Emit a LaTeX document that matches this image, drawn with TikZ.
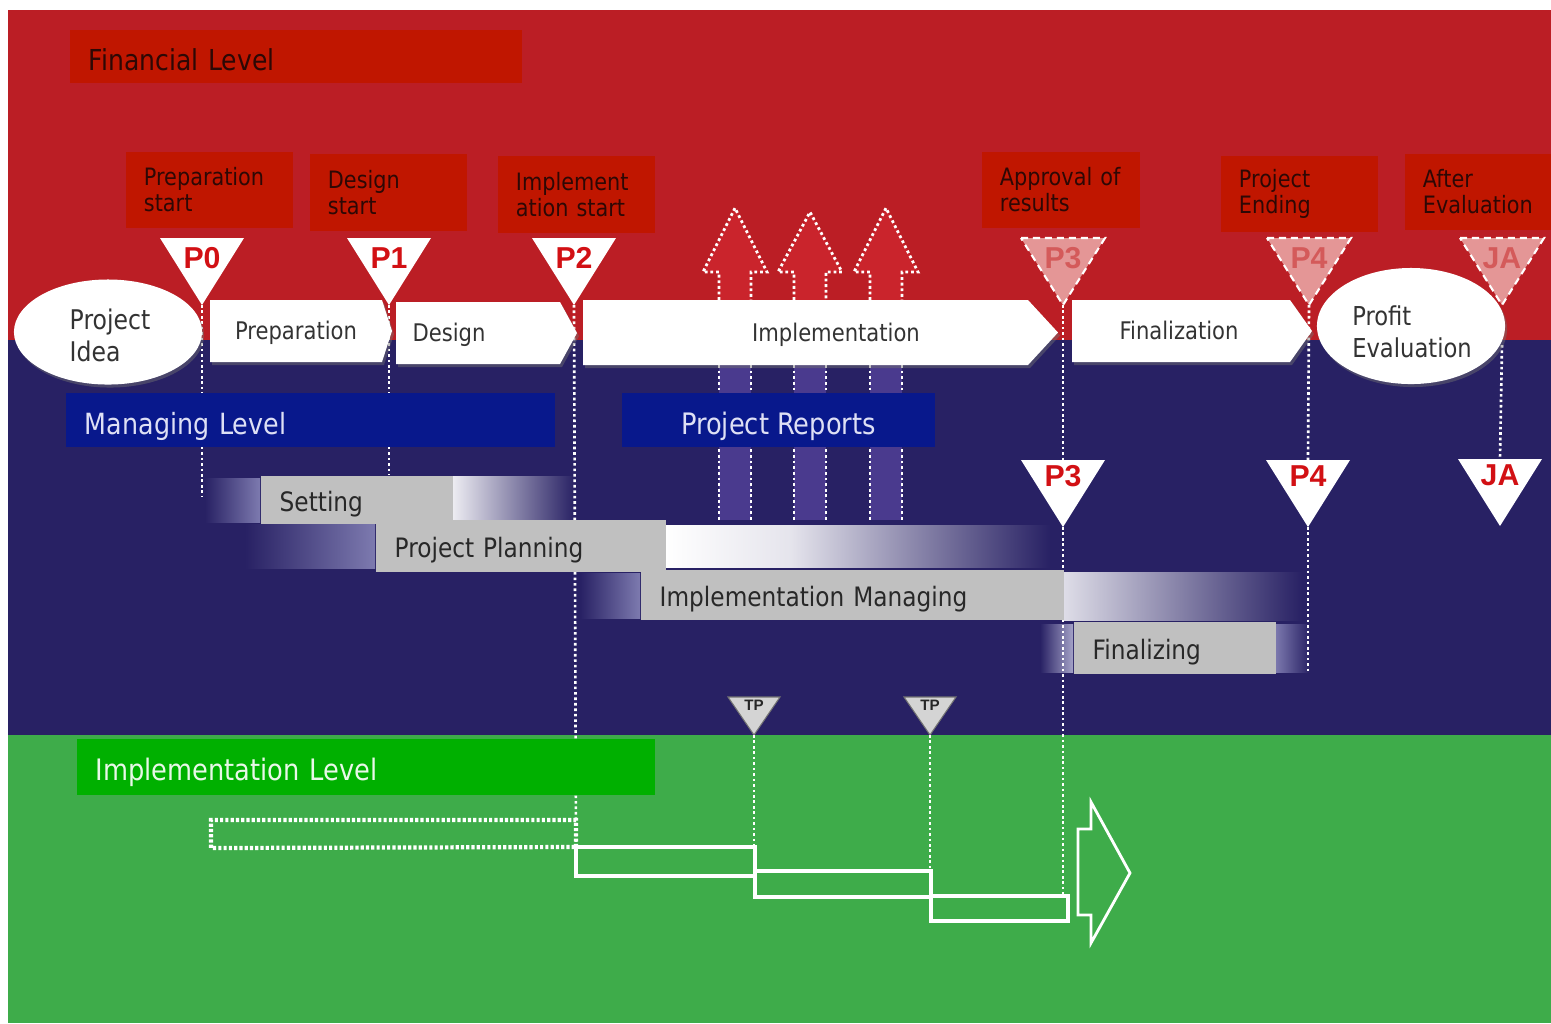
\documentclass[tikz,border=0pt]{standalone}
\usepackage{fontspec}
\setmainfont{DejaVu Sans}[FakeStretch=0.87]
\newfontfamily\markfont{Liberation Sans}
\usetikzlibrary{shapes.geometric}

\definecolor{bgred}{RGB}{187,30,37}
\definecolor{labred}{RGB}{192,22,0}
\definecolor{labtxt}{RGB}{45,8,5}
\definecolor{bgblue}{RGB}{40,33,100}
\definecolor{navybox}{RGB}{8,24,140}
\definecolor{navytxt}{RGB}{222,224,245}
\definecolor{bggreen}{RGB}{62,172,74}
\definecolor{labgreen}{RGB}{0,176,0}
\definecolor{greentxt}{RGB}{232,248,232}
\definecolor{barg}{RGB}{192,192,192}
\definecolor{bartxt}{RGB}{40,40,40}
\definecolor{shaft}{RGB}{74,58,142}
\definecolor{arrowred}{RGB}{202,36,44}
\definecolor{fadetri}{RGB}{228,150,150}
\definecolor{fadetxt}{RGB}{212,90,90}
\definecolor{pred}{RGB}{210,16,20}
\definecolor{lav}{RGB}{125,122,175}
\colorlet{paleblue}{white!88!bgblue}

\tikzset{
  guide/.style={draw=white, line width=0.75pt, dash pattern=on 0.75pt off 0.8pt},
  arrowedge/.style={draw=white, line width=0.8pt, dash pattern=on 0.8pt off 0.8pt},
  ptxt/.style={text=black!80, font=\fontsize{6.9}{8}\selectfont, inner sep=0,
    text height=5.1pt, text depth=0pt},
  mlab/.style={fill=labred, text=labtxt, font=\fontsize{6.8}{7.4}\selectfont,
    align=left, inner xsep=0.18cm, inner ysep=0, minimum height=0.76cm, text width=#1},
  lvl/.style={inner xsep=0.19cm, inner ysep=0, align=left, text width=#1, text depth=0pt},
  gbar/.style={fill=barg, text=bartxt, font=\fontsize{7.6}{9}\selectfont,
    inner xsep=0.19cm, inner ysep=0, align=left, text width=#1, anchor=west,
    text height=6.8pt, text depth=0pt},
  mtxt/.style={font=\markfont\bfseries\fontsize{8.6}{9}\selectfont, text=pred, inner sep=0},
  tptxt/.style={font=\markfont\bfseries\fontsize{4.3}{5}\selectfont, text=black!85, inner sep=0},
  implbar/.style={draw=white, line width=1.1pt},
}

% white milestone triangle with its label
\newcommand\SolidMark[5]{%
  \fill[white] (#2-42,#3) -- (#2+42,#3) -- (#2,#3+67) -- cycle;
  \node[mtxt] (#1) at (#2,#3+#5) {#4};
  \coordinate (#1-tip) at (#2,#3+67);
  \coordinate (#1-top) at (#2,#3);}
% pale, dashed milestone triangle
\newcommand\FadeMark[4]{%
  \filldraw[fill=fadetri, draw=white, line width=0.6pt, dash pattern=on 2pt off 1.4pt]
    (#2-42,#3) -- (#2+42,#3) -- (#2,#3+67) -- cycle;
  \node[mtxt, text=fadetxt] (#1) at (#2,#3+20) {#4};
  \coordinate (#1-tip) at (#2,#3+67);}
% small test point marker
\newcommand\TpMark[2]{%
  \filldraw[fill=black!17, draw=black!55, line width=0.3pt]
    (#2-26,697) -- (#2+26,697) -- (#2,735) -- cycle;
  \node[tptxt] (#1) at (#2,705) {TP};
  \coordinate (#1-tip) at (#2,735);}
% phase chevron: name, left, right, top, bottom, tip, text x, text
\newcommand\Stage[8]{%
  \fill[black!55, opacity=.45, xshift=0.02cm, yshift=-0.03cm]
    (#2,#4) -- (#3-#6,#4) -- (#3,{(#4+#5)/2}) -- (#3-#6,#5) -- (#2,#5) -- cycle;
  \fill[white] (#2,#4) -- (#3-#6,#4) -- (#3,{(#4+#5)/2}) -- (#3-#6,#5) -- (#2,#5) -- cycle;
  \node[ptxt] (#1) at (#7,{(#4+#5)/2}) {#8};}
% report arrow rising from the managing level
\newcommand\UpArrow[3]{%
  \filldraw[fill=arrowred, arrowedge]
    (#2-16,300) -- (#2-16,272) -- (#2-32,272) -- (#2,#3) -- (#2+32,272) -- (#2+16,272) -- (#2+16,300);
  \fill[shaft] (#2-16,365) rectangle (#2+16,520);
  \coordinate (#1-l) at (#2-16,365); \coordinate (#1-le) at (#2-16,520);
  \coordinate (#1-r) at (#2+16,365); \coordinate (#1-re) at (#2+16,520);
  \draw[arrowedge] (#1-l) -- (#1-le);
  \draw[arrowedge] (#1-r) -- (#1-re);}

\begin{document}
\begin{tikzpicture}[x=0.01cm, y=-0.01cm]
\useasboundingbox (0,0) rectangle (1551,1023);
\fill[white] (0,0) rectangle (1551,1023);

% the three level bands
\fill[bgred] (8,10) rectangle (1551,340);
\fill[bgblue] (8,340) rectangle (1551,735);
\fill[bggreen] (8,735) rectangle (1551,1023);

% financial level
\node[lvl=4.14cm, fill=labred, text=labtxt, minimum height=0.53cm, text height=8.2pt,
  font=\fontsize{8.2}{10}\selectfont] (fin) at (296,56.5) {Financial Level};

\node[mlab=1.31cm] (lprep) at (209.5,190) {Preparation\\start};
\node[mlab=1.21cm] (ldes) at (388.5,192.5) {Design\\start};
\node[mlab=1.21cm] (limp) at (576.5,194.5) {Implement\\ation start};
\node[mlab=1.22cm] (lapp) at (1061,190) {Approval of\\results};
\node[mlab=1.21cm] (lend) at (1299.5,194) {Project\\Ending};
\node[mlab=1.10cm, inner xsep=0.18cm] (laft) at (1478,192) {After\\Evaluation};

% project report arrows
\UpArrow{ra}{735}{208}
\UpArrow{rb}{810}{212}
\UpArrow{rc}{886}{208}

% gantt fades
\shade[left color=bgblue, right color=lav] (205,478) rectangle (260,522);
\shade[left color=white!92!bgblue, right color=bgblue] (452,476) rectangle (575,520);
\shade[left color=bgblue, right color=lav] (245,524) rectangle (375,568);
\shade[left color=white, right color=paleblue] (665,525) rectangle (790,567);
\shade[left color=paleblue, right color=bgblue] (790,525) rectangle (1050,567);
\shade[left color=bgblue, right color=lav] (580,573) rectangle (640,618);
\shade[left color=white!85!bgblue, right color=bgblue] (1063,572) rectangle (1302,620);
\shade[left color=bgblue, right color=lav!70!white] (1040,624) rectangle (1073,672);
\shade[left color=lav, right color=bgblue] (1275,624) rectangle (1310,672);

% milestone triangles on the financial level
\SolidMark{P0}{202}{238}{P0}{20}
\SolidMark{P1}{389}{238}{P1}{20}
\SolidMark{P2}{574}{238}{P2}{20}
\FadeMark{P3f}{1063}{238}{P3}
\FadeMark{P4f}{1309}{238}{P4}
\FadeMark{JAf}{1502}{238}{JA}

% milestone triangles on the managing level
\SolidMark{P3}{1063}{460}{P3}{16}
\SolidMark{P4}{1308}{460}{P4}{16}
\SolidMark{JA}{1500}{459}{JA}{16}

% test points
\TpMark{TPa}{754}
\TpMark{TPb}{930}

% guide line end points
\coordinate (g0) at (202,497);
\coordinate (g1) at (389,474);
\coordinate (bar1) at (576,847);
\coordinate (bar2) at (755,871);
\coordinate (bar3) at (931,896);
\coordinate (bar3e) at (1063,896);
\coordinate (p3m) at (1063,460);
\coordinate (p4m) at (1308,460);
\coordinate (p4e) at (1308,672);
\coordinate (jas) at (1502,345);
\coordinate (jam) at (1500,459);

\draw[guide] (P0-tip) -- (g0);
\draw[guide] (P1-tip) -- (g1);
\draw[guide] (P2-tip) -- (bar1);
\draw[guide] (P3f-tip) -- (p3m);
\draw[guide] (P3-tip) -- (bar3e);
\draw[guide] (P4f-tip) -- (p4m);
\draw[guide] (P4-tip) -- (p4e);
\draw[guide] (jas) -- (jam);
\draw[guide] (TPa-tip) -- (bar1 -| TPa-tip);
\draw[guide] (TPb-tip) -- (bar2 -| TPb-tip);

% phases
\node[ellipse, fill=black!55, opacity=.45, minimum width=1.88cm, minimum height=1.05cm] (ideash) at (110,335) {};
\node[ellipse, fill=white, minimum width=1.88cm, minimum height=1.05cm] (idea) at (108,332) {};
\node[align=left, text=black!80, inner sep=0, font=\fontsize{7.7}{9.1}\selectfont] (ideatxt) at (110,335) {Project\\Idea};
\Stage{prep}{210}{392}{300}{362}{10}{296}{Preparation}
\Stage{des}{396}{577}{302}{364}{17}{449}{Design}
\Stage{impl}{583}{1058}{300}{365}{30}{836}{Implementation}
\Stage{fin2}{1072}{1312}{300}{362}{22}{1179}{Finalization}
\node[ellipse, fill=black!55, opacity=.45, minimum width=1.88cm, minimum height=1.16cm] (profsh) at (1413,329) {};
\node[ellipse, fill=white, minimum width=1.88cm, minimum height=1.16cm] (prof) at (1411,326) {};
\node[align=left, text=black!80, inner sep=0, font=\fontsize{7.4}{9}\selectfont] (proftxt) at (1412,332) {Profit\\Evaluation};

% managing level
\node[lvl=4.51cm, fill=navybox, text=navytxt, minimum height=0.54cm, text height=8.5pt,
  font=\fontsize{8.3}{10}\selectfont] (mng) at (310.5,420) {Managing Level};
\node[fill=navybox, text=navytxt, minimum height=0.54cm, minimum width=3.13cm, inner sep=0,
  text height=8.5pt, text depth=0pt, font=\fontsize{8.4}{10}\selectfont] (rep) at (778.5,420) {Project Reports};

% gantt bars
\node[gbar=1.54cm, minimum height=0.48cm] (set) at (260,500) {Setting};
\node[gbar=2.52cm, minimum height=0.52cm] (plan) at (375,546) {Project Planning};
\node[gbar=3.85cm, minimum height=0.50cm] (impm) at (640,595) {Implementation Managing};
\node[gbar=1.64cm, minimum height=0.52cm] (final) at (1073,648) {Finalizing};

% implementation level
\node[lvl=5.40cm, fill=labgreen, text=greentxt, minimum height=0.56cm, text height=7.4pt,
  font=\fontsize{8.4}{10}\selectfont] (implv) at (366,767) {Implementation Level};

\draw[white, line width=1.2pt, dash pattern=on 0.9pt off 0.6pt]
  (bar1) -- (576,820) -- (211,820) -- (211,848) -- (bar1);
\draw[implbar] (bar1) rectangle (755,876);
\draw[implbar] (bar2) rectangle (931,897);
\draw[implbar] (bar3) rectangle (1068,921);
\draw[white, line width=0.8pt] (1078,829) -- (1091,829) -- (1091,802) -- (1130,873)
  -- (1091,943) -- (1091,915) -- (1078,915) -- cycle;
\end{tikzpicture}
\end{document}
